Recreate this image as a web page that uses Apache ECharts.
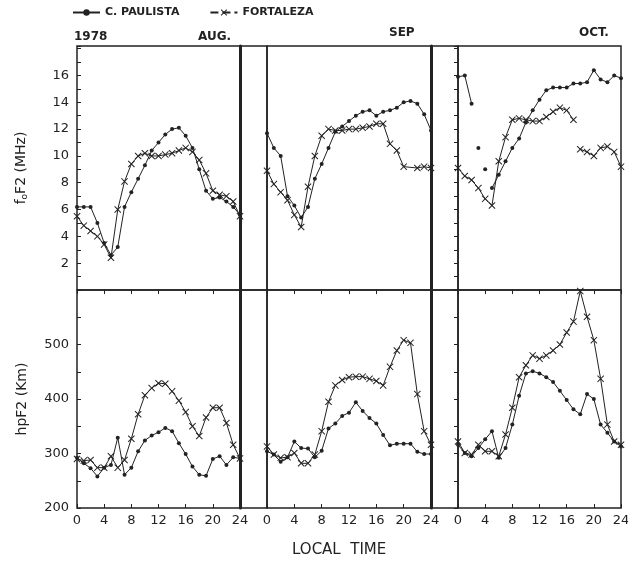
<!DOCTYPE html>
<html style="height: 100%">
   <head>
       <meta charset="utf-8">
   </head>
   <body style="height: 100%; margin: 0; background: #fff">
       <div id="container" style="width: 628px; height: 567px"></div>
       <script type="text/javascript" src="https://cdn.jsdelivr.net/npm/echarts@6/dist/echarts.min.js"></script>
       <script type="text/javascript">
// local time, hours 0..24
var hours = [0, 1, 2, 3, 4, 5, 6, 7, 8, 9, 10, 11, 12, 13, 14, 15, 16, 17, 18, 19, 20, 21, 22, 23, 24];
var monthLabels = ['AUG.', 'SEP', 'OCT.'];

// foF2 (MHz)
var augPaulistaFo = [6.2, 6.2, 6.2, 5.0, 3.5, 2.6, 3.2, 6.2, 7.3, 8.3, 9.3, 10.4, 11.0, 11.6, 12.0, 12.1, 11.5, 10.6, 9.0, 7.4, 6.8, 6.9, 6.6, 6.2, 5.6];
var augFortalezaFo = [5.5, 4.8, 4.4, 4.0, 3.4, 2.4, 6.0, 8.1, 9.4, 10.0, 10.2, 10.0, 10.0, 10.1, 10.2, 10.4, 10.6, 10.3, 9.7, 8.7, 7.4, 7.1, 7.0, 6.6, 5.5];
var sepPaulistaFo = [11.7, 10.6, 10.0, 7.0, 6.3, 5.4, 6.2, 8.3, 9.4, 10.6, 11.8, 12.2, 12.6, 13.0, 13.3, 13.4, 13.0, 13.3, 13.4, 13.6, 14.0, 14.1, 13.9, 13.1, 11.9];
var sepFortalezaFo = [8.9, 7.9, 7.3, 6.7, 5.6, 4.7, 7.7, 10.0, 11.5, 12.0, 11.9, 11.9, 12.0, 12.0, 12.1, 12.2, 12.4, 12.4, 10.9, 10.4, 9.2, null, 9.1, 9.2, 9.1];
var octPaulistaFo = [15.9, 16.0, 13.9, 10.6, 9.0, 7.6, 8.6, 9.6, 10.6, 11.3, 12.5, 13.4, 14.2, 14.9, 15.1, 15.1, 15.1, 15.4, 15.4, 15.5, 16.4, 15.7, 15.5, 16.0, 15.8];
var octFortalezaFo = [9.1, 8.5, 8.2, 7.6, 6.8, 6.3, 9.6, 11.4, 12.7, 12.8, 12.7, 12.6, 12.6, 12.9, 13.3, 13.6, 13.4, 12.7, 10.5, 10.3, 10.0, 10.6, 10.7, 10.3, 9.2];

// hpF2 (km)
var augPaulistaHp = [292, 282, 273, 258, 274, 279, 329, 261, 274, 304, 324, 333, 339, 347, 341, 319, 299, 276, 261, 259, 290, 295, 279, 293, 291];
var augFortalezaHp = [290, 287, 288, 274, 274, 295, 274, 288, 327, 372, 407, 420, 429, 428, 414, 397, 376, 350, 332, 366, 384, 384, 356, 316, 291];
var sepPaulistaHp = [304, 298, 285, 293, 322, 310, 309, 293, 305, 346, 355, 369, 375, 394, 378, 365, 355, 334, 315, 318, 318, 318, 303, 299, 299];
var sepFortalezaHp = [313, 298, 292, 293, 301, 282, 282, 298, 341, 395, 425, 435, 440, 441, 441, 437, 433, 425, 459, 489, 508, 503, 409, 341, 316];
var octPaulistaHp = [316, 301, 295, 310, 326, 341, 292, 310, 353, 406, 447, 451, 447, 440, 431, 415, 398, 381, 372, 409, 400, 353, 338, 322, 313];
var octFortalezaHp = [322, 301, 298, 316, 304, 304, 295, 335, 384, 440, 462, 480, 474, 480, 489, 500, 522, 542, 598, 551, 508, 437, 353, 322, 316];

// hours after which the curve is not joined to the next point
var octPaulistaFoBreaks = [2, 3, 4];
var octFortalezaFoBreaks = [17];

var dom = document.getElementById("container");
var myChart = echarts.init(dom);

var ink = '#222';
var font = 'DejaVu Sans';
var xMark = 'path://M0,1L1,0L5,4L9,0L10,1L6,5L10,9L9,10L5,6L1,10L0,9L4,5Z';

var cols = [{left: 77, width: 163}, {left: 267, width: 164}, {left: 458, width: 163}];
var rows = [{top: 46, height: 244}, {top: 290, height: 218}];

var panels = [
    {fo: [augPaulistaFo, augFortalezaFo], hp: [augPaulistaHp, augFortalezaHp], foBreaks: [[], []]},
    {fo: [sepPaulistaFo, sepFortalezaFo], hp: [sepPaulistaHp, sepFortalezaHp], foBreaks: [[], []]},
    {fo: [octPaulistaFo, octFortalezaFo], hp: [octPaulistaHp, octFortalezaHp], foBreaks: [octPaulistaFoBreaks, octFortalezaFoBreaks]}
];

function toPoints(values, breaks) {
    var pts = [];
    hours.forEach(function (h, i) {
        if (values[i] !== null) pts.push([h, values[i]]);
        if (breaks.indexOf(h) >= 0) pts.push([h + 0.5, null]);
    });
    return pts;
}

var grids = [], xAxes = [], yAxes = [], series = [];

rows.forEach(function (r, ri) {
    var isTop = ri === 0;
    cols.forEach(function (c, ci) {
        var gi = grids.length;
        grids.push({left: c.left, top: r.top, width: c.width, height: r.height, outerBoundsMode: 'none',
            show: true, borderColor: ink, borderWidth: 1.5, backgroundColor: 'transparent'});
        var xi = xAxes.length;
        xAxes.push({
            gridIndex: gi, type: 'value', min: 0, max: 24, interval: 4,
            position: isTop ? 'top' : 'bottom',
            axisLine: {show: false},
            axisTick: {inside: true, length: 4, lineStyle: {color: ink}},
            axisLabel: {show: !isTop, margin: 6, color: ink, fontSize: 13, fontFamily: font},
            splitLine: {show: false}
        });
        var yi = yAxes.length;
        yAxes.push({
            gridIndex: gi, type: 'value',
            min: isTop ? 0 : 200, max: isTop ? 18.2 : 600, interval: isTop ? 2 : 100,
            position: ci === 2 ? 'right' : 'left',
            axisLine: {show: false},
            axisTick: {show: ci !== 1, inside: true, length: 4, lineStyle: {color: ink}},
            minorTick: {show: ci !== 1, splitNumber: 2, length: 4, lineStyle: {color: ink}},
            axisLabel: {
                show: ci === 0, margin: 8, color: ink, fontSize: 13, fontFamily: font,
                formatter: function (v) {
                    if (isTop) return (v >= 2 && v <= 16) ? v : '';
                    return v <= 500 ? v : '';
                }
            },
            splitLine: {show: false},
            name: ci === 0 ? (isTop ? 'f{s|o}F2 (MHz)' : 'hpF2 (Km)') : '',
            nameLocation: 'middle', nameGap: 48,
            nameTextStyle: {color: ink, fontSize: 14, fontFamily: font,
                rich: {s: {fontSize: 9, color: ink, fontFamily: font, padding: [6, 0, 0, 0]}}}
        });
        if (ci < 2) {
            // heavy separator on the right edge of AUG and SEP
            yAxes.push({
                gridIndex: gi, type: 'value', position: 'right',
                min: isTop ? 0 : 200, max: isTop ? 18.2 : 600,
                axisLine: {show: true, lineStyle: {color: ink, width: 3}},
                axisTick: {show: false}, axisLabel: {show: false}, splitLine: {show: false}
            });
        }
        var p = panels[ci];
        var vals = isTop ? p.fo : p.hp;
        var brk = isTop ? p.foBreaks : [[], []];
        series.push({
            name: 'C. PAULISTA', type: 'line', xAxisIndex: xi, yAxisIndex: yi,
            data: toPoints(vals[0], brk[0]), connectNulls: false,
            symbol: 'circle', symbolSize: 4, showSymbol: true,
            lineStyle: {color: ink, width: 1}, itemStyle: {color: ink}
        });
        series.push({
            name: 'FORTALEZA', type: 'line', xAxisIndex: xi, yAxisIndex: yi,
            data: toPoints(vals[1], brk[1]), connectNulls: false,
            symbol: xMark, symbolSize: 7, showSymbol: true,
            lineStyle: {color: ink, width: 1}, itemStyle: {color: ink}
        });
    });
});

// blank strips between the months keep the frame continuous
[240, 431].forEach(function (left) {
    rows.forEach(function (r) {
        grids.push({left: left, top: r.top, width: 27, height: r.height, outerBoundsMode: 'none',
            show: true, borderColor: ink, borderWidth: 1.5, backgroundColor: 'transparent'});
    });
});

var labelStyle = {color: ink, fontSize: 12, fontWeight: 'bold', fontFamily: font};

option = {
    animation: false,
    backgroundColor: '#fff',
    title: [
        {text: '1978', left: 74, top: 31, padding: 0, textStyle: labelStyle},
        {text: monthLabels[0], left: 198, top: 31, padding: 0, textStyle: labelStyle},
        {text: monthLabels[1], left: 389, top: 27, padding: 0, textStyle: labelStyle},
        {text: monthLabels[2], left: 579, top: 27, padding: 0, textStyle: labelStyle},
        {text: 'LOCAL  TIME', left: 292, top: 543, padding: 0,
            textStyle: {color: ink, fontSize: 15, fontWeight: 'normal', fontFamily: font}}
    ],
    legend: {
        data: [
            {name: 'C. PAULISTA'},
            {name: 'FORTALEZA', lineStyle: {type: 'dashed'}}
        ],
        left: 72, top: 7, padding: 0, itemWidth: 27, itemHeight: 8, itemGap: 30,
        textStyle: {color: ink, fontSize: 11, fontWeight: 'bold', fontFamily: font}
    },
    grid: grids,
    xAxis: xAxes,
    yAxis: yAxes,
    series: series
};

if (option && typeof option === "object") {
    myChart.setOption(option, true);
}
       </script>
   </body>
</html>
